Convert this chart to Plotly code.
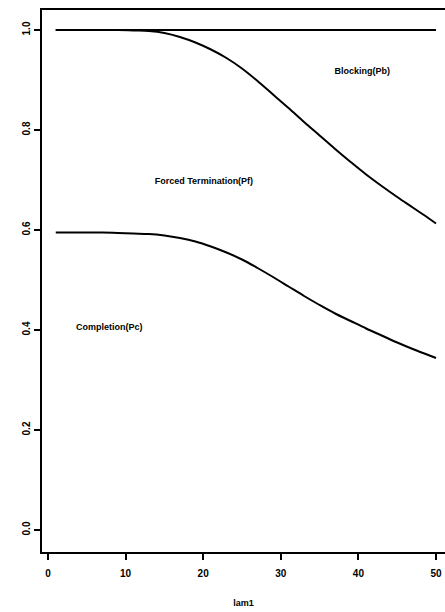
import plotly.graph_objects as go

lam = [1, 3, 5, 7, 9, 11, 13, 15, 17, 19, 21, 23, 25, 27, 29, 31, 33, 35, 37, 39, 41, 43, 45, 47, 49, 50]
pb_boundary = [1.0, 1.0, 1.0, 1.0, 1.0, 0.999, 0.998, 0.994, 0.986, 0.975, 0.961, 0.944, 0.923, 0.898,
               0.871, 0.844, 0.816, 0.789, 0.762, 0.736, 0.711, 0.688, 0.666, 0.645, 0.624, 0.613]
pc_boundary = [0.595, 0.595, 0.595, 0.595, 0.594, 0.593, 0.592, 0.589, 0.584, 0.577, 0.567, 0.555, 0.541,
               0.524, 0.506, 0.487, 0.468, 0.45, 0.433, 0.418, 0.403, 0.389, 0.375, 0.362, 0.35, 0.344]
top_line = [1.0] * len(lam)

labels = ["Blocking(Pb)", "Forced Termination(Pf)", "Completion(Pc)"]
label_x = [40.5, 20.1, 7.9]
label_y = [0.916, 0.696, 0.404]

x_ticks = [0, 10, 20, 30, 40, 50]
y_ticks = [0.0, 0.2, 0.4, 0.6, 0.8, 1.0]
y_tick_text = ["0.0", "0.2", "0.4", "0.6", "0.8", "1.0"]

FONT = "Arial, Liberation Sans, sans-serif"
bold = dict(family=FONT, size=9, color="black", weight="bold")

fig = go.Figure()
line_style = dict(color="black", width=2, shape="spline", smoothing=1.0)
for ys in (top_line, pb_boundary, pc_boundary):
    fig.add_trace(go.Scatter(x=lam, y=ys, mode="lines", line=line_style, showlegend=False, hoverinfo="skip",
                             cliponaxis=False))

fig.add_trace(go.Scatter(x=label_x, y=label_y, mode="text", text=labels,
                         textposition="middle center", textfont=bold, showlegend=False, hoverinfo="skip"))

fig.update_layout(
    width=445, height=612,
    margin=dict(l=42, r=0, t=10, b=60, autoexpand=False),
    paper_bgcolor="white", plot_bgcolor="white",
    font=dict(family=FONT, size=10, color="black"),
    xaxis=dict(range=[-0.77, 51.16], tickvals=x_ticks, ticktext=[str(v) for v in x_ticks],
               tickfont=dict(family=FONT, size=10, color="black", weight="bold"),
               ticks="outside", ticklen=6, tickwidth=2, tickcolor="black", ticklabelstandoff=5,
               showline=True, linewidth=2, linecolor="black", mirror=True, automargin=False,
               showgrid=False, zeroline=False,
               title=dict(text="lam1", font=bold, standoff=22)),
    yaxis=dict(range=[-0.044, 1.04], tickvals=y_ticks, ticktext=y_tick_text,
               tickfont=dict(family=FONT, size=10, color="black", weight="bold"),
               tickangle=-90, ticks="outside", ticklen=6, tickwidth=2, tickcolor="black",
               showline=True, linewidth=2, linecolor="black", mirror=True, automargin=False,
               showgrid=False, zeroline=False),
)

fig.write_html("out.html")
